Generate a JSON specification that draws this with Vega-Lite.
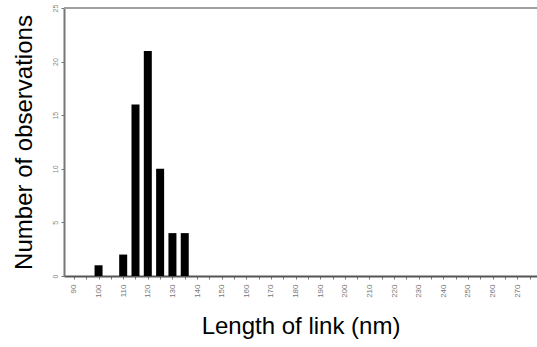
{
  "$schema": "https://vega.github.io/schema/vega-lite/v6.json",
  "width": 473,
  "height": 268,
  "autosize": {"type": "none"},
  "padding": {"left": 64, "top": 8, "right": 0, "bottom": 71},
  "background": "white",
  "config": {"view": {"stroke": null}, "font": "Liberation Sans"},
  "data": {"values": [
    {"length": 100, "count": 1},
    {"length": 110, "count": 2},
    {"length": 115, "count": 16},
    {"length": 120, "count": 21},
    {"length": 125, "count": 10},
    {"length": 130, "count": 4},
    {"length": 135, "count": 4}
  ]},
  "layer": [
    {
      "mark": {"type": "rule", "color": "#a0a0a0", "strokeWidth": 2},
      "encoding": {"y": {"datum": 25, "type": "quantitative"}}
    },
    {
      "mark": {"type": "bar", "color": "#000000", "width": 8},
      "encoding": {
        "x": {
          "field": "length", "type": "quantitative",
          "scale": {"domain": [88, 276], "nice": false, "zero": false},
          "axis": {
            "title": "Length of link (nm)",
            "titleFont": "Liberation Sans", "titleFontSize": 24, "titleFontWeight": "normal", "titleColor": "#000",
            "titlePadding": 17,
            "values": [90,95,100,105,110,115,120,125,130,135,140,145,150,155,160,165,170,175,180,185,190,195,200,205,210,215,220,225,230,235,240,245,250,255,260,265,270,275],
            "labelExpr": "datum.value % 10 == 0 ? datum.label : ''",
            "labelAngle": -90, "labelAlign": "right", "labelBaseline": "middle",
            "labelFontSize": 8, "labelColor": "#777", "labelPadding": 5,
            "grid": false, "domainColor": "#555", "domainWidth": 2,
            "tickColor": "#777", "tickSize": 3
          }
        },
        "y": {
          "field": "count", "type": "quantitative",
          "scale": {"domain": [0, 25], "nice": false},
          "axis": {
            "title": "Number of observations",
            "titleFont": "Liberation Sans", "titleFontSize": 24, "titleFontWeight": "normal", "titleColor": "#000",
            "titlePadding": 15,
            "values": [0,5,10,15,20,25],
            "labelAngle": -90, "labelAlign": "center", "labelBaseline": "bottom",
            "labelFontSize": 7, "labelColor": "#888", "labelPadding": 3,
            "grid": false, "domainColor": "#777", "domainWidth": 2,
            "tickColor": "#777", "tickSize": 3
          }
        }
      }
    }
  ]
}
